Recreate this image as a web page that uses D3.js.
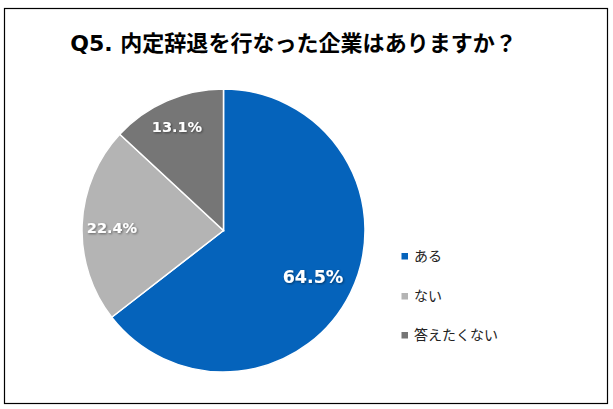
<!DOCTYPE html>
<html><head><meta charset="utf-8">
<script src="https://cdn.jsdelivr.net/npm/d3@7"></script>
<style>body{margin:0;background:#fff}svg{display:block}</style>
</head><body>
<script>
const categories = ["ある", "ない", "答えたくない"];
const values = [64.5, 22.4, 13.1];
const colors = ["#0563BB", "#B4B4B4", "#767676"];
const title = "Q5. 内定辞退を行なった企業はありますか？";

const W = 613, H = 409;
const svg = d3.select("body").append("svg").attr("width", W).attr("height", H);
svg.append("rect").attr("x", 4.5).attr("y", 8.5).attr("width", 603).attr("height", 395)
  .attr("fill", "#fff").attr("stroke", "#000").attr("stroke-width", 1.2);

const t = svg.append("text").attr("x", 293.5).attr("y", 51).attr("text-anchor", "middle")
  .attr("font-family", "'DejaVu Sans', 'Noto Sans CJK JP', sans-serif").attr("font-weight", "bold")
  .attr("font-size", 21).attr("fill", "#000").text(title);
const tw = t.node().getComputedTextLength();
t.attr("font-size", 21 * 447 / tw);

const cx = 223.5, cy = 230.5, r = 141.5;
const pie = d3.pie().sort(null).value(d => d);
const arcs = pie(values);
const arc = d3.arc().innerRadius(0).outerRadius(r);
const g = svg.append("g").attr("transform", `translate(${cx},${cy})`);
g.selectAll("path").data(arcs).join("path").attr("d", arc)
  .attr("fill", (d, i) => colors[i]).attr("stroke", "#fff").attr("stroke-width", 1.5);

const defs = svg.append("defs");
const f = defs.append("filter").attr("id", "sh").attr("x", "-20%").attr("y", "-20%").attr("width", "140%").attr("height", "140%");
f.append("feDropShadow").attr("dx", 1).attr("dy", 1).attr("stdDeviation", 0.8).attr("flood-color", "#000").attr("flood-opacity", 0.45);

const lpos = [[244 - cx, 277 - cy], [112 - cx, 228 - cy], [177 - cx, 127 - cy]];
lpos[0][0] = 313 - cx;
g.selectAll("text.lab").data(arcs).join("text").attr("class", "lab")
  .attr("x", (d, i) => lpos[i][0]).attr("y", (d, i) => lpos[i][1])
  .attr("text-anchor", "middle").attr("dominant-baseline", "central")
  .attr("font-family", "'DejaVu Sans', Verdana, sans-serif").attr("font-weight", "bold")
  .attr("font-size", (d, i) => i === 0 ? 17.5 : 14.5).attr("fill", "#fff")
  .attr("filter", "url(#sh)")
  .text(d => d.data.toFixed(1) + "%");

const leg = svg.append("g");
const ly = [255, 295, 334];
categories.forEach((c, i) => {
  leg.append("rect").attr("x", 401.5).attr("y", ly[i] - 2).attr("width", 6.5).attr("height", 6.5).attr("fill", colors[i]);
  leg.append("text").attr("x", 414).attr("y", ly[i]).attr("dominant-baseline", "central")
    .attr("font-family", "'Noto Sans CJK JP', sans-serif").attr("font-size", 14).attr("fill", "#222").text(c);
});
</script>
</body></html>
